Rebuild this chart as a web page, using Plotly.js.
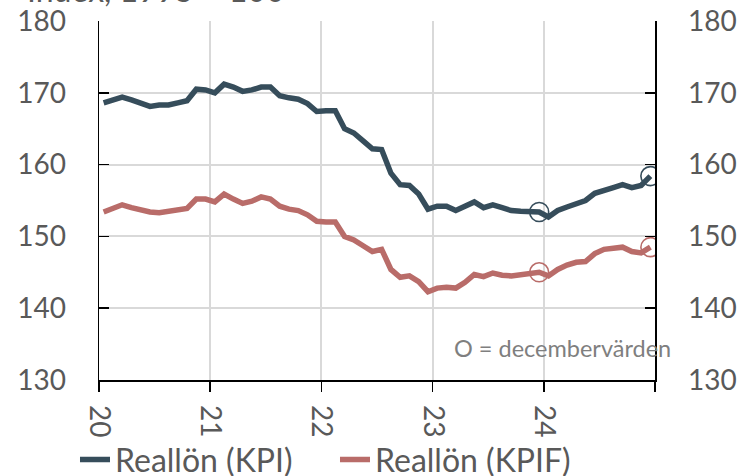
<!DOCTYPE html>
<html>
<head>
<meta charset="utf-8">
<script src="https://cdn.plot.ly/plotly-3.0.1.min.js"></script>
<style>html,body{margin:0;padding:0;background:#fff;}#chart{width:747px;height:476px;}</style>
</head>
<body>
<div id="chart"></div>
<script>
// Monthly index values, Jan 2020 – Dec 2024 (Index, 1995 = 100)
const months = Array.from({length: 60}, (_, i) => i);
const realKPI = [
  168.6, 169.1, 169.4, 169.0, 168.6, 168.1, 168.3, 168.3, 168.6, 168.9, 170.5, 170.4,
  170.0, 171.2, 170.8, 170.2, 170.4, 170.8, 170.8, 169.6, 169.3, 169.1, 168.5, 167.4,
  167.5, 167.5, 165.0, 164.4, 163.3, 162.2, 162.1, 158.8, 157.2, 157.1, 155.9, 153.8,
  154.2, 154.2, 153.6, 154.2, 154.8, 154.0, 154.4, 154.0, 153.6, 153.5, 153.5, 153.4,
  152.7, 153.6, 154.1, 154.6, 155.0, 156.0, 156.5, 156.8, 157.2, 156.8, 157.1, 158.4
];
const realKPIF = [
  153.4, 154.0, 154.4, 154.0, 153.6, 153.4, 153.3, 153.5, 153.8, 153.9, 155.2, 155.2,
  154.8, 155.9, 155.2, 154.6, 154.9, 155.5, 155.2, 154.2, 153.8, 153.6, 153.0, 152.1,
  152.0, 152.0, 150.0, 149.5, 148.7, 147.9, 148.2, 145.4, 144.3, 144.5, 143.7, 142.3,
  142.8, 142.9, 142.8, 143.6, 144.7, 144.4, 144.9, 144.6, 144.5, 144.7, 144.9, 145.0,
  144.5, 145.4, 146.0, 146.4, 146.5, 147.6, 148.2, 148.4, 148.5, 147.9, 147.7, 148.5
];
// December observations (index of month)
const decIdx = [47, 59];
const xTickVals = [-0.5, 11.5, 23.5, 35.5, 47.5, 59.5];
const xTickText = ['20', '21', '22', '23', '24', ''];
const yTicks = [130, 140, 150, 160, 170, 180];

const cKPI = '#364d5b';
const cKPIF = '#b96c69';
const gray = '#595959';
const FONT = 'Lato, "Open Sans", sans-serif';

const traces = [
  {x: months, y: realKPI, type: 'scatter', mode: 'lines', name: 'Reallön (KPI)',
   line: {color: cKPI, width: 5.5}, hoverinfo: 'skip'},
  {x: months, y: realKPIF, type: 'scatter', mode: 'lines', name: 'Reallön (KPIF)',
   line: {color: cKPIF, width: 5.5}, hoverinfo: 'skip'},
  {x: decIdx.map(i => months[i]), y: decIdx.map(i => realKPI[i]), type: 'scatter', mode: 'markers',
   showlegend: false, yaxis: 'y2', hoverinfo: 'skip',
   marker: {symbol: 'circle-open', size: 19, color: cKPI, line: {width: 1.6, color: cKPI}}},
  {x: decIdx.map(i => months[i]), y: decIdx.map(i => realKPIF[i]), type: 'scatter', mode: 'markers',
   showlegend: false, yaxis: 'y2', hoverinfo: 'skip',
   marker: {symbol: 'circle-open', size: 19, color: cKPIF, line: {width: 1.6, color: cKPIF}}}
];

const layout = {
  width: 747, height: 476,
  margin: {l: 99, r: 92, t: 21, b: 96, pad: 0, autoexpand: false},
  paper_bgcolor: '#fff', plot_bgcolor: '#fff',
  font: {family: FONT, color: gray, size: 28},
  showlegend: true,
  legend: {orientation: 'h', xref: 'container', x: 0.1004, xanchor: 'left', yref: 'container', y: 0.034, yanchor: 'middle',
           font: {family: FONT, size: 32, color: gray}, bgcolor: 'rgba(0,0,0,0)', itemwidth: 30,
           entrywidth: 215, entrywidthmode: 'pixels', tracegroupgap: 0},
  xaxis: {
    range: [-0.5, 59.5], tickmode: 'array', tickvals: xTickVals, ticktext: xTickText,
    tickangle: 90, ticks: 'outside', ticklen: 10, tickwidth: 1.5, tickcolor: '#000',
    showline: true, linecolor: '#000', linewidth: 1.5, automargin: false,
    showgrid: true, gridcolor: '#d9d9d9', gridwidth: 2, zeroline: false,
    tickfont: {family: FONT, size: 28, color: gray}, ticklabelstandoff: 8, fixedrange: true
  },
  yaxis: {
    range: [130, 180], tickmode: 'array', tickvals: yTicks, automargin: false,
    ticks: 'inside', ticklen: 10, tickwidth: 1.5, tickcolor: '#000',
    showline: true, linecolor: '#000', linewidth: 1.5,
    showgrid: true, gridcolor: '#d9d9d9', gridwidth: 2, zeroline: false,
    tickfont: {family: FONT, size: 28, color: gray}, ticklabelstandoff: 26, fixedrange: true
  },
  yaxis2: {
    range: [130, 180], tickmode: 'array', tickvals: yTicks, overlaying: 'y', side: 'right', automargin: false,
    ticks: 'inside', ticklen: 10, tickwidth: 1.5, tickcolor: '#000',
    showline: true, linecolor: '#000', linewidth: 1.5,
    showgrid: false, zeroline: false,
    tickfont: {family: FONT, size: 28, color: gray}, ticklabelstandoff: 26, fixedrange: true
  },
  annotations: [
    {xref: 'paper', yref: 'paper', x: 0.8345, y: 0.0905, xanchor: 'center', yanchor: 'middle',
     text: 'O = decembervärden', showarrow: false, font: {family: FONT, size: 23.5, color: '#7f7f7f'}},
    {xref: 'paper', yref: 'paper', x: -0.133, y: 1, xanchor: 'left', yanchor: 'bottom', yshift: 10,
     text: 'Index, 1995 = 100', showarrow: false, font: {family: FONT, size: 32, color: gray}}
  ]
};

Plotly.newPlot('chart', traces, layout, {displayModeBar: false, staticPlot: true});
</script>
</body>
</html>
